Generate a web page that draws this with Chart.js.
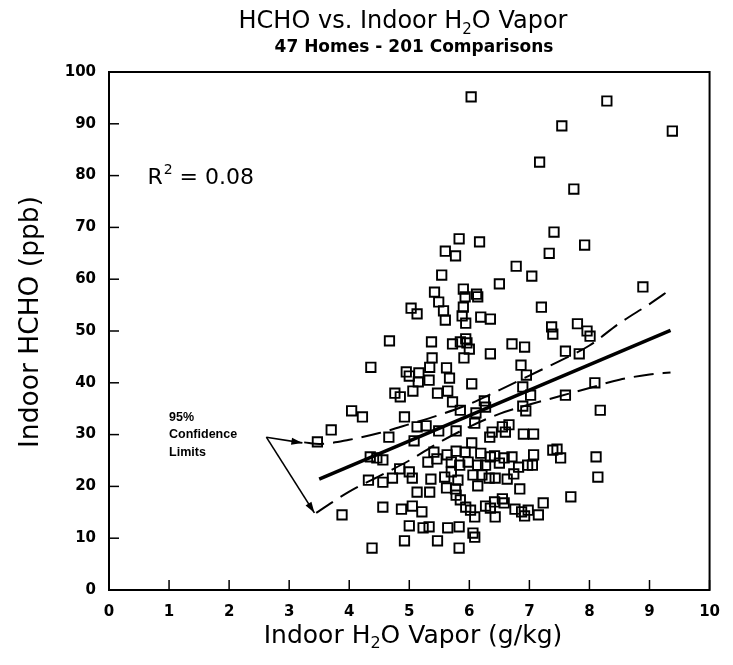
<!DOCTYPE html>
<html><head><meta charset="utf-8">
<script src="https://cdn.jsdelivr.net/npm/chart.js@4/dist/chart.umd.min.js"></script>
<style>html,body{margin:0;padding:0;background:#fff}#wrap{width:733px;height:665px;position:relative}</style>
</head><body><div id="wrap"><canvas id="c" width="733" height="665"></canvas></div>
<script>
// ---- data ----
const vaporValues = [
6.03,8.29,7.54,9.38,7.17,7.74,7.41,5.83,6.17,5.60,5.77,7.33,7.92,
5.54,5.42,5.90,5.93,6.12,6.14,5.49,5.03,5.13,5.57,5.60,5.90,5.88,5.94,6.19,6.35,
4.67,5.37,5.72,5.85,5.94,5.96,6.00,5.91,6.35,5.38,5.34,4.36,5.62,4.95,5.00,5.16,
5.15,5.33,5.67,6.04,4.76,4.85,5.06,5.47,5.64,5.72,5.85,4.04,4.22,4.92,6.25,6.11,6.27,
6.78,7.04,6.50,8.89,7.20,7.37,7.39,7.80,7.96,8.01,6.71,6.92,7.60,7.83,6.86,6.95,
6.89,7.02,8.09,7.60,6.89,6.94,8.18,
3.70,3.47,4.66,5.13,5.28,5.49,5.78,6.09,6.34,5.08,6.04,5.78,5.93,5.41,5.63,6.19,
6.35,4.35,4.46,4.56,5.31,5.46,5.70,5.84,5.98,6.14,6.27,4.84,5.00,5.05,5.36,5.59,
5.70,5.81,6.06,6.21,6.33,4.32,4.56,4.72,5.62,5.77,6.14,5.13,5.34,5.78,5.85,5.94,
6.02,6.09,6.27,6.35,4.56,4.87,5.05,5.21,3.88,5.00,5.23,5.33,5.64,5.83,6.06,6.09,
4.92,5.47,4.38,5.83,
6.38,6.60,6.66,6.55,6.90,7.07,7.39,7.46,7.52,8.11,8.14,7.69,6.42,6.50,6.58,6.71,
7.07,6.82,6.97,7.05,6.43,6.63,6.74,6.84,6.42,6.55,6.58,6.43,6.76,6.87,6.92,6.98,
7.15,7.23
];
const hchoValues = [
95.2,94.4,89.6,88.6,82.6,77.4,69.1,67.8,67.2,65.4,64.5,65.0,66.6,
60.8,57.5,58.1,56.6,57.1,56.6,55.6,54.4,53.3,53.9,52.1,54.6,52.9,51.5,52.7,52.3,
48.1,47.9,47.5,47.9,48.5,47.7,46.5,44.8,45.6,44.8,43.0,43.0,42.9,42.1,41.3,41.9,
40.2,40.5,40.9,39.8,38.0,37.3,38.4,38.0,38.4,36.3,34.7,34.6,33.4,33.4,36.5,34.2,35.3,
62.5,60.6,59.1,58.5,54.6,50.8,49.4,51.4,50.0,49.0,47.5,46.9,46.1,45.6,43.4,41.5,
39.2,37.6,40.0,37.6,35.5,34.6,34.7,
30.9,28.6,29.5,31.5,31.7,30.7,30.7,32.2,29.5,28.8,28.4,26.8,26.6,26.6,26.1,26.4,
25.7,25.7,25.5,25.1,24.7,25.3,24.7,24.1,24.7,24.1,24.1,23.4,22.8,21.6,21.4,21.8,
22.8,21.2,22.2,22.2,21.6,21.2,20.8,21.6,19.7,19.5,20.1,18.9,18.9,18.3,17.4,16.0,
15.4,14.1,16.2,15.8,16.0,15.6,16.2,15.1,14.5,12.4,12.0,12.2,12.0,12.2,11.0,10.2,
9.5,9.5,8.1,8.1,
30.5,30.5,31.9,31.5,30.1,30.1,27.0,27.2,25.5,25.7,21.8,18.0,25.9,24.5,25.5,25.7,
26.1,23.7,24.1,24.1,21.6,21.4,22.4,19.5,17.0,17.6,16.8,14.1,15.6,15.1,14.3,15.4,
14.5,16.8
];
const fitX = [3.5, 9.35];
const fitY = [21.4, 50.1];
const upperX = [3.25,3.5,4.0,4.5,5.0,5.5,6.0,6.5,7.0,7.5,8.0,8.5,9.0,9.35];
const upperY = [28.5,28.2,29.0,30.3,32.0,33.8,35.9,38.6,41.4,44.2,47.2,51.5,55.2,58.0];
const lowerX = [3.45,4.0,4.5,5.0,5.5,6.0,6.5,7.0,7.5,8.0,8.5,9.0,9.35];
const lowerY = [14.9,19.0,22.0,25.0,28.5,31.5,34.0,35.8,37.4,39.0,40.6,41.6,42.0];
const xTickValues = [0,1,2,3,4,5,6,7,8,9,10];
const yTickValues = [0,10,20,30,40,50,60,70,80,90,100];
// annotation anchor points (data units)
const arrowStart = [2.62, 29.5];
const arrowEnds = [[3.22, 28.4], [3.42, 14.9]];
const noteLines = ['95%', 'Confidence', 'Limits'];
const notePos = [1.0, 33.3];
const r2Pos = [0.64, 79.4];
const r2Value = '0.08';

const toPts = (xs, ys) => xs.map((x, i) => ({x, y: ys[i]}));
const FONT = "'DejaVu Sans', 'Liberation Sans', Arial, sans-serif";
const NFONT = "'Liberation Sans', Arial, sans-serif";

function drawParts(ctx, parts, cx, cy, size, weight) {
  let total = 0;
  const widths = parts.map(p => {
    ctx.font = `${weight} ${p.sub ? Math.round(size*0.62) : size}px ${FONT}`;
    const w = ctx.measureText(p.t).width; total += w; return w;
  });
  let x = cx - total / 2;
  parts.forEach((p, i) => {
    ctx.font = `${weight} ${p.sub ? Math.round(size*0.62) : size}px ${FONT}`;
    ctx.fillText(p.t, x, cy + (p.sub ? size*0.32 : 0));
    x += widths[i];
  });
}

const decor = {
  id: 'decor',
  afterDraw(chart) {
    const {ctx, chartArea: a, scales: {x, y}} = chart;
    ctx.save();
    ctx.strokeStyle = '#000'; ctx.fillStyle = '#000';
    // frame
    ctx.lineWidth = 2;
    ctx.strokeRect(a.left, a.top, a.right - a.left, a.bottom - a.top);
    // inside ticks
    ctx.lineWidth = 1.5;
    xTickValues.forEach(v => { const px = x.getPixelForValue(v); ctx.beginPath(); ctx.moveTo(px, a.bottom); ctx.lineTo(px, a.bottom - 10); ctx.stroke(); });
    yTickValues.forEach(v => { const py = y.getPixelForValue(v); ctx.beginPath(); ctx.moveTo(a.left, py); ctx.lineTo(a.left + 10, py); ctx.stroke(); });
    // titles
    ctx.textBaseline = 'middle'; ctx.textAlign = 'left';
    drawParts(ctx, [{t:'HCHO vs. Indoor H'},{t:'2',sub:true},{t:'O Vapor'}], 403, 22, 24, 'normal');
    ctx.font = `bold 17px ${FONT}`; ctx.textAlign = 'center';
    ctx.fillText('47 Homes - 201 Comparisons', 414, 48);
    ctx.textAlign = 'left';
    drawParts(ctx, [{t:'Indoor H'},{t:'2',sub:true},{t:'O Vapor (g/kg)'}], 413, 636, 25, 'normal');
    ctx.save(); ctx.translate(31, 322); ctx.rotate(-Math.PI/2);
    ctx.font = `normal 26.5px ${FONT}`; ctx.textAlign = 'center';
    ctx.fillText('Indoor HCHO (ppb)', 0, 0); ctx.restore();
    // R^2 label
    let rx = x.getPixelForValue(r2Pos[0]), ry = y.getPixelForValue(r2Pos[1]);
    ctx.textAlign = 'left';
    ctx.font = `normal 22px ${FONT}`; ctx.fillText('R', rx, ry); rx += ctx.measureText('R').width + 1;
    ctx.font = `normal 14px ${FONT}`; ctx.fillText('2', rx, ry - 8); rx += ctx.measureText('2').width;
    ctx.font = `normal 22px ${FONT}`; ctx.fillText(' = ' + r2Value, rx, ry);
    // note
    ctx.font = `bold 12.5px ${NFONT}`;
    const nx = x.getPixelForValue(notePos[0]), ny = y.getPixelForValue(notePos[1]);
    noteLines.forEach((t, i) => ctx.fillText(t, nx, ny + i * 17.5));
    // arrows
    const sx = x.getPixelForValue(arrowStart[0]), sy = y.getPixelForValue(arrowStart[1]);
    ctx.lineWidth = 1.6;
    arrowEnds.forEach(e => {
      const ex = x.getPixelForValue(e[0]), ey = y.getPixelForValue(e[1]);
      ctx.beginPath(); ctx.moveTo(sx, sy); ctx.lineTo(ex, ey); ctx.stroke();
      const ang = Math.atan2(ey - sy, ex - sx), L = 11, W = 3.5;
      ctx.beginPath(); ctx.moveTo(ex, ey);
      ctx.lineTo(ex - L*Math.cos(ang) + W*Math.sin(ang), ey - L*Math.sin(ang) - W*Math.cos(ang));
      ctx.lineTo(ex - L*Math.cos(ang) - W*Math.sin(ang), ey - L*Math.sin(ang) + W*Math.cos(ang));
      ctx.closePath(); ctx.fill();
    });
    ctx.restore();
  }
};

new Chart(document.getElementById('c'), {
  type: 'scatter',
  data: {
    datasets: [
      { label: 'Homes', data: toPts(vaporValues, hchoValues), pointStyle: 'rect', pointRadius: 6.6,
        pointBorderWidth: 1.9, pointBorderColor: '#000', pointBackgroundColor: 'rgba(255,255,255,0)', showLine: false },
      { label: 'Fit', type: 'line', data: toPts(fitX, fitY), borderColor: '#000', borderWidth: 3.5, pointRadius: 0, fill: false },
      { label: 'Upper', type: 'line', data: toPts(upperX, upperY), borderColor: '#000', borderWidth: 2, borderDash: [20, 9], pointRadius: 0, cubicInterpolationMode: 'monotone', fill: false },
      { label: 'Lower', type: 'line', data: toPts(lowerX, lowerY), borderColor: '#000', borderWidth: 2, borderDash: [20, 9], pointRadius: 0, cubicInterpolationMode: 'monotone', fill: false }
    ]
  },
  options: {
    responsive: false, animation: false, devicePixelRatio: 1,
    layout: { padding: { top: 72, right: 12, left: 0, bottom: 0 } },
    plugins: { legend: { display: false }, tooltip: { enabled: false }, title: { display: false } },
    scales: {
      x: { type: 'linear', min: 0, max: 10,
        afterBuildTicks: s => { s.ticks = xTickValues.map(v => ({value: v})); },
        afterFit: s => { s.height = 75; },
        grid: { display: false, drawTicks: false }, border: { display: true, color: '#000', width: 2 },
        ticks: { padding: 13, color: '#000', font: { family: FONT, size: 15, weight: 'bold' } } },
      y: { type: 'linear', min: 0, max: 100,
        afterBuildTicks: s => { s.ticks = yTickValues.map(v => ({value: v})); },
        afterFit: s => { s.width = 109; },
        grid: { display: false, drawTicks: false }, border: { display: true, color: '#000', width: 2 },
        ticks: { padding: 13, color: '#000', font: { family: FONT, size: 15, weight: 'bold' } } }
    }
  },
  plugins: [decor]
});
</script></body></html>
